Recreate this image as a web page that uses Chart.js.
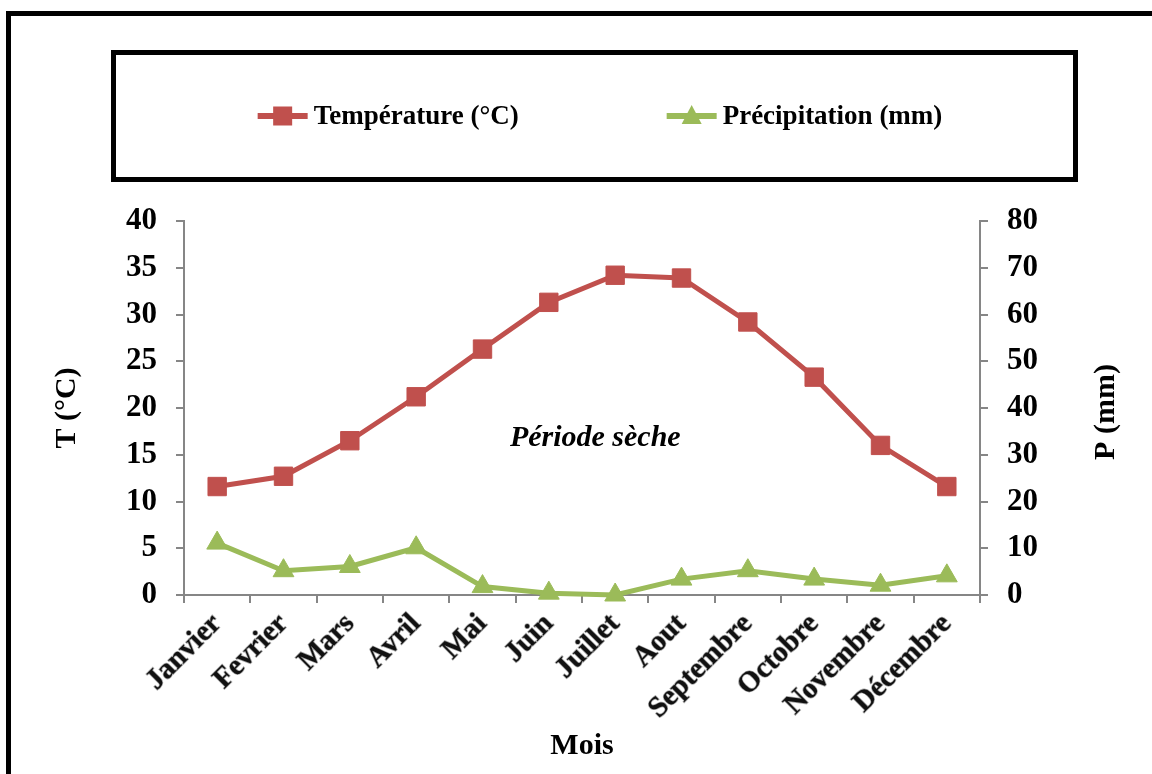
<!DOCTYPE html>
<html>
<head>
<meta charset="utf-8">
<script src="https://cdn.jsdelivr.net/npm/chart.js"></script>
<style>
  html, body { margin: 0; padding: 0; background: #fff; }
  #wrap { position: relative; width: 1152px; height: 774px; }
</style>
</head>
<body>
<div id="wrap"><canvas id="climat" width="1152" height="774"></canvas></div>
<script>
// mois (axe x)
const mois = ['Janvier', 'Fevrier', 'Mars', 'Avril', 'Mai', 'Juin', 'Juillet', 'Aout', 'Septembre', 'Octobre', 'Novembre', 'Décembre'];
// température (°C) - axe gauche
const temperature = [11.6, 12.7, 16.5, 21.2, 26.3, 31.3, 34.2, 33.9, 29.2, 23.3, 16.0, 11.6];
// précipitation (mm) - axe droit
const precipitation = [11.1, 5.2, 6.1, 10.1, 1.8, 0.4, 0, 3.4, 5.2, 3.4, 2.1, 4.1];

const serieT = 'Température (°C)';
const serieP = 'Précipitation (mm)';
const titreT = 'T (°C)';
const titreP = 'P (mm)';
const titreX = 'Mois';
const note = 'Période sèche';
const notePos = [5.7, 16.8]; // index mois, valeur T

const police = 'Liberation Serif, "Times New Roman", serif';
const rouge = '#C0504D';
const vert = '#9BBB59';
const gris = '#868686';

// cadre + légende + textes libres
const decor = {
  id: 'decor',
  afterDraw(chart) {
    const ctx = chart.ctx;
    ctx.save();
    // cadre extérieur
    ctx.fillStyle = '#000';
    ctx.fillRect(6, 11, 1146, 5);
    ctx.fillRect(6, 11, 5, 763);
    // boite légende
    ctx.lineWidth = 5;
    ctx.strokeStyle = '#000';
    ctx.strokeRect(113.5, 52.5, 962, 127);

    ctx.font = 'bold 27px ' + police;
    ctx.textBaseline = 'middle';
    const ly = 116;
    const sample = 50, gap = 6, itemGap = 148;
    const ds = chart.data.datasets;
    let total = 0;
    ds.forEach((d, i) => { total += sample + gap + ctx.measureText(d.label).width + (i ? itemGap : 0); });
    let x = 600 - total / 2;
    ds.forEach((d, i) => {
      if (i) x += itemGap;
      ctx.strokeStyle = d.borderColor;
      ctx.lineWidth = 6;
      ctx.beginPath();
      ctx.moveTo(x, ly);
      ctx.lineTo(x + sample, ly);
      ctx.stroke();
      ctx.fillStyle = d.pointBackgroundColor;
      const cx = x + sample / 2;
      if (d.pointStyle === 'rect') {
        ctx.fillRect(cx - 9.5, ly - 9.5, 19, 19);
      } else {
        ctx.beginPath();
        ctx.moveTo(cx, ly - 11);
        ctx.lineTo(cx + 10, ly + 8);
        ctx.lineTo(cx - 10, ly + 8);
        ctx.closePath();
        ctx.fill();
      }
      x += sample + gap;
      ctx.fillStyle = '#000';
      ctx.textAlign = 'left';
      ctx.fillText(d.label, x, ly + 1);
      x += ctx.measureText(d.label).width;
    });

    // titre axe droit (lu de bas en haut)
    const area = chart.chartArea;
    ctx.font = 'bold 30px ' + police;
    ctx.textAlign = 'center';
    ctx.fillStyle = '#000';
    ctx.translate(1106, (area.top + area.bottom) / 2 + 4);
    ctx.rotate(-Math.PI / 2);
    ctx.fillText(titreP, 0, 0);
    ctx.restore();

    // période sèche
    ctx.save();
    ctx.font = 'italic bold 30px ' + police;
    ctx.textAlign = 'center';
    ctx.textBaseline = 'middle';
    ctx.fillStyle = '#000';
    ctx.fillText(note, chart.scales.x.getPixelForValue(notePos[0]), chart.scales.y.getPixelForValue(notePos[1]));
    ctx.restore();
  }
};

new Chart(document.getElementById('climat'), {
  type: 'line',
  data: {
    labels: mois,
    datasets: [{
      label: serieT,
      data: temperature,
      yAxisID: 'y',
      borderColor: rouge,
      backgroundColor: rouge,
      pointBackgroundColor: rouge,
      pointBorderColor: rouge,
      borderWidth: 5,
      pointStyle: 'rect',
      pointRadius: 13,
      pointBorderWidth: 1,
      tension: 0,
      clip: false
    }, {
      label: serieP,
      data: precipitation,
      yAxisID: 'y1',
      borderColor: vert,
      backgroundColor: vert,
      pointBackgroundColor: vert,
      pointBorderColor: vert,
      borderWidth: 5,
      pointStyle: 'triangle',
      pointRadius: 12,
      pointBorderWidth: 1,
      tension: 0,
      clip: false
    }]
  },
  options: {
    responsive: false,
    animation: false,
    devicePixelRatio: 1,
    layout: { padding: { left: 45, right: 24, top: 221, bottom: 6 } },
    plugins: {
      legend: { display: false },
      tooltip: { enabled: false }
    },
    scales: {
      x: {
        offset: true,
        grid: { offset: true, drawOnChartArea: false, drawTicks: true, tickLength: 8, color: gris, lineWidth: 2 },
        border: { display: true, color: gris, width: 2 },
        ticks: {
          minRotation: 45, maxRotation: 45, autoSkip: false, padding: 4, color: '#111',
          textStrokeColor: 'rgba(60,60,60,0.45)', textStrokeWidth: 1.5,
          font: { family: police, size: 29, weight: 'bold' }
        },
        title: { display: true, text: titreX, color: '#000', font: { family: police, size: 30, weight: 'bold' } },
        afterFit(s) { s.height = 173; }
      },
      y: {
        position: 'left',
        min: 0, max: 40,
        grid: { drawOnChartArea: false, drawTicks: true, tickLength: 8, color: gris, lineWidth: 2 },
        border: { display: true, color: gris, width: 2 },
        ticks: { stepSize: 5, padding: 19, color: '#000', font: { family: police, size: 31, weight: 'bold' } },
        title: { display: true, text: titreT, color: '#000', font: { family: police, size: 30, weight: 'bold' } },
        afterFit(s) { s.width = 139; }
      },
      y1: {
        position: 'right',
        min: 0, max: 80,
        grid: { drawOnChartArea: false, drawTicks: true, tickLength: 8, color: gris, lineWidth: 2 },
        border: { display: true, color: gris, width: 2 },
        ticks: { stepSize: 10, padding: 19, color: '#000', font: { family: police, size: 31, weight: 'bold' } },
        afterFit(s) { s.width = 148; }
      }
    }
  },
  plugins: [decor]
});
</script>
</body>
</html>
